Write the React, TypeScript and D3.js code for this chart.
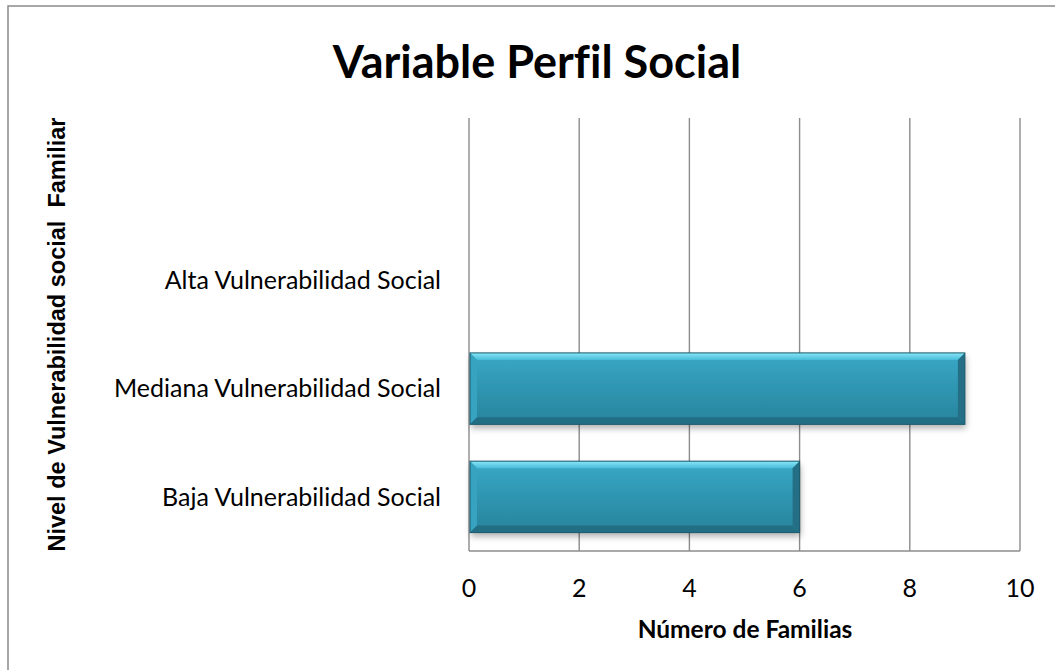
import React from 'react';
import * as d3 from 'd3';

// categories listed bottom to top, as in the source chart (top band is empty)
const categories = ['Baja Vulnerabilidad Social', 'Mediana Vulnerabilidad Social', 'Alta Vulnerabilidad Social', ' '];
const values = [6, 9, 0, null];
const xTicks = [0, 2, 4, 6, 8, 10];
const title = 'Variable Perfil Social';
const xTitle = 'Número de Familias';
const yTitle = 'Nivel de Vulnerabilidad social  Familiar';

const width = 1055;
const height = 670;
const plot = { left: 469, right: 1020, top: 118, bottom: 551 };
const gridColor = '#8c8c8c';
const labelFont = 'Lato, "Open Sans", sans-serif';

export default function App() {
  const x = d3.scaleLinear().domain([0, 10]).range([plot.left, plot.right]);
  const y = d3
    .scaleBand<string>()
    .domain(categories)
    .range([plot.bottom, plot.top])
    .paddingInner(0.34)
    .paddingOuter(0.17);

  const b = 7; // bevel size

  return (
    <svg
      width={width}
      height={height}
      style={{ position: 'absolute', left: 0, top: 0, background: '#fff', fontVariantLigatures: 'none' }}
    >
      <defs>
        <linearGradient id="barFill" x1="0" y1="0" x2="0" y2="1">
          <stop offset="0" stopColor="#3aa9c7" />
          <stop offset="0.45" stopColor="#2f97b3" />
          <stop offset="1" stopColor="#2a849d" />
        </linearGradient>
        <linearGradient id="topBevel" x1="0" y1="0" x2="0" y2="1">
          <stop offset="0" stopColor="#8ae6f8" />
          <stop offset="1" stopColor="#48bcd9" />
        </linearGradient>
        <filter id="shadow" x="-5%" y="-20%" width="115%" height="160%">
          <feDropShadow dx="1" dy="4" stdDeviation="3" floodColor="#000" floodOpacity="0.3" />
        </filter>
      </defs>

      {/* chart border */}
      <rect x={8} y={6} width={1100} height={700} fill="none" stroke="#8a8a8a" strokeWidth={1.5} />

      <text
        x={537}
        y={78}
        textAnchor="middle"
        fontFamily={labelFont}
        fontWeight="bold"
        fontSize={45}
        fill="#000"
      >
        {title}
      </text>

      {/* vertical gridlines */}
      {xTicks.map((t) => (
        <line
          key={t}
          x1={x(t)}
          x2={x(t)}
          y1={plot.top}
          y2={plot.bottom}
          stroke={gridColor}
          strokeWidth={1.4}
        />
      ))}
      {/* bottom axis line */}
      <line x1={plot.left} x2={plot.right} y1={plot.bottom} y2={plot.bottom} stroke={gridColor} strokeWidth={1.4} />

      {/* bars */}
      {categories.map((c, i) => {
        const v = values[i];
        if (v == null || v <= 0) return null;
        const x0 = x(0) + 1;
        const x1 = x(v);
        const y0 = y(c) as number;
        const y1 = y0 + y.bandwidth();
        return (
          <g key={c}>
            <rect x={x0} y={y0} width={x1 - x0} height={y1 - y0} fill="url(#barFill)" filter="url(#shadow)" />
            <polygon
              points={`${x0},${y0} ${x1},${y0} ${x1 - b},${y0 + b} ${x0 + b},${y0 + b}`}
              fill="url(#topBevel)"
            />
            <polygon
              points={`${x0},${y0} ${x0 + b},${y0 + b} ${x0 + b},${y1 - b} ${x0},${y1}`}
              fill="#37a3c0"
            />
            <polygon
              points={`${x0},${y1} ${x1},${y1} ${x1 - b},${y1 - b} ${x0 + b},${y1 - b}`}
              fill="#226e84"
            />
            <polygon
              points={`${x1},${y0} ${x1},${y1} ${x1 - b},${y1 - b} ${x1 - b},${y0 + b}`}
              fill="#256f86"
            />
            <rect x={x0} y={y0} width={x1 - x0} height={y1 - y0} fill="none" stroke="#1b5a6c" strokeWidth={1} />
          </g>
        );
      })}

      {/* category labels */}
      {categories.map((c) => (
        <text
          key={c}
          x={plot.left - 28}
          y={(y(c) as number) + y.bandwidth() / 2}
          dy="0.35em"
          textAnchor="end"
          fontFamily={labelFont}
          fontSize={25}
          fill="#000"
        >
          {c}
        </text>
      ))}

      {/* x tick labels */}
      {xTicks.map((t) => (
        <text
          key={t}
          x={x(t)}
          y={597}
          textAnchor="middle"
          fontFamily={labelFont}
          fontSize={25}
          fill="#000"
        >
          {t}
        </text>
      ))}

      <text
        x={745}
        y={638}
        textAnchor="middle"
        fontFamily={labelFont}
        fontWeight="bold"
        fontSize={24.5}
        fill="#000"
      >
        {xTitle}
      </text>

      <text
        transform={`translate(65, ${(plot.top + plot.bottom) / 2}) rotate(-90)`}
        textAnchor="middle"
        fontFamily='"Liberation Sans", Arial, sans-serif'
        fontWeight="bold"
        fontSize={23.5}
        fill="#000"
        style={{ whiteSpace: 'pre' }}
      >
        {yTitle}
      </text>
    </svg>
  );
}
